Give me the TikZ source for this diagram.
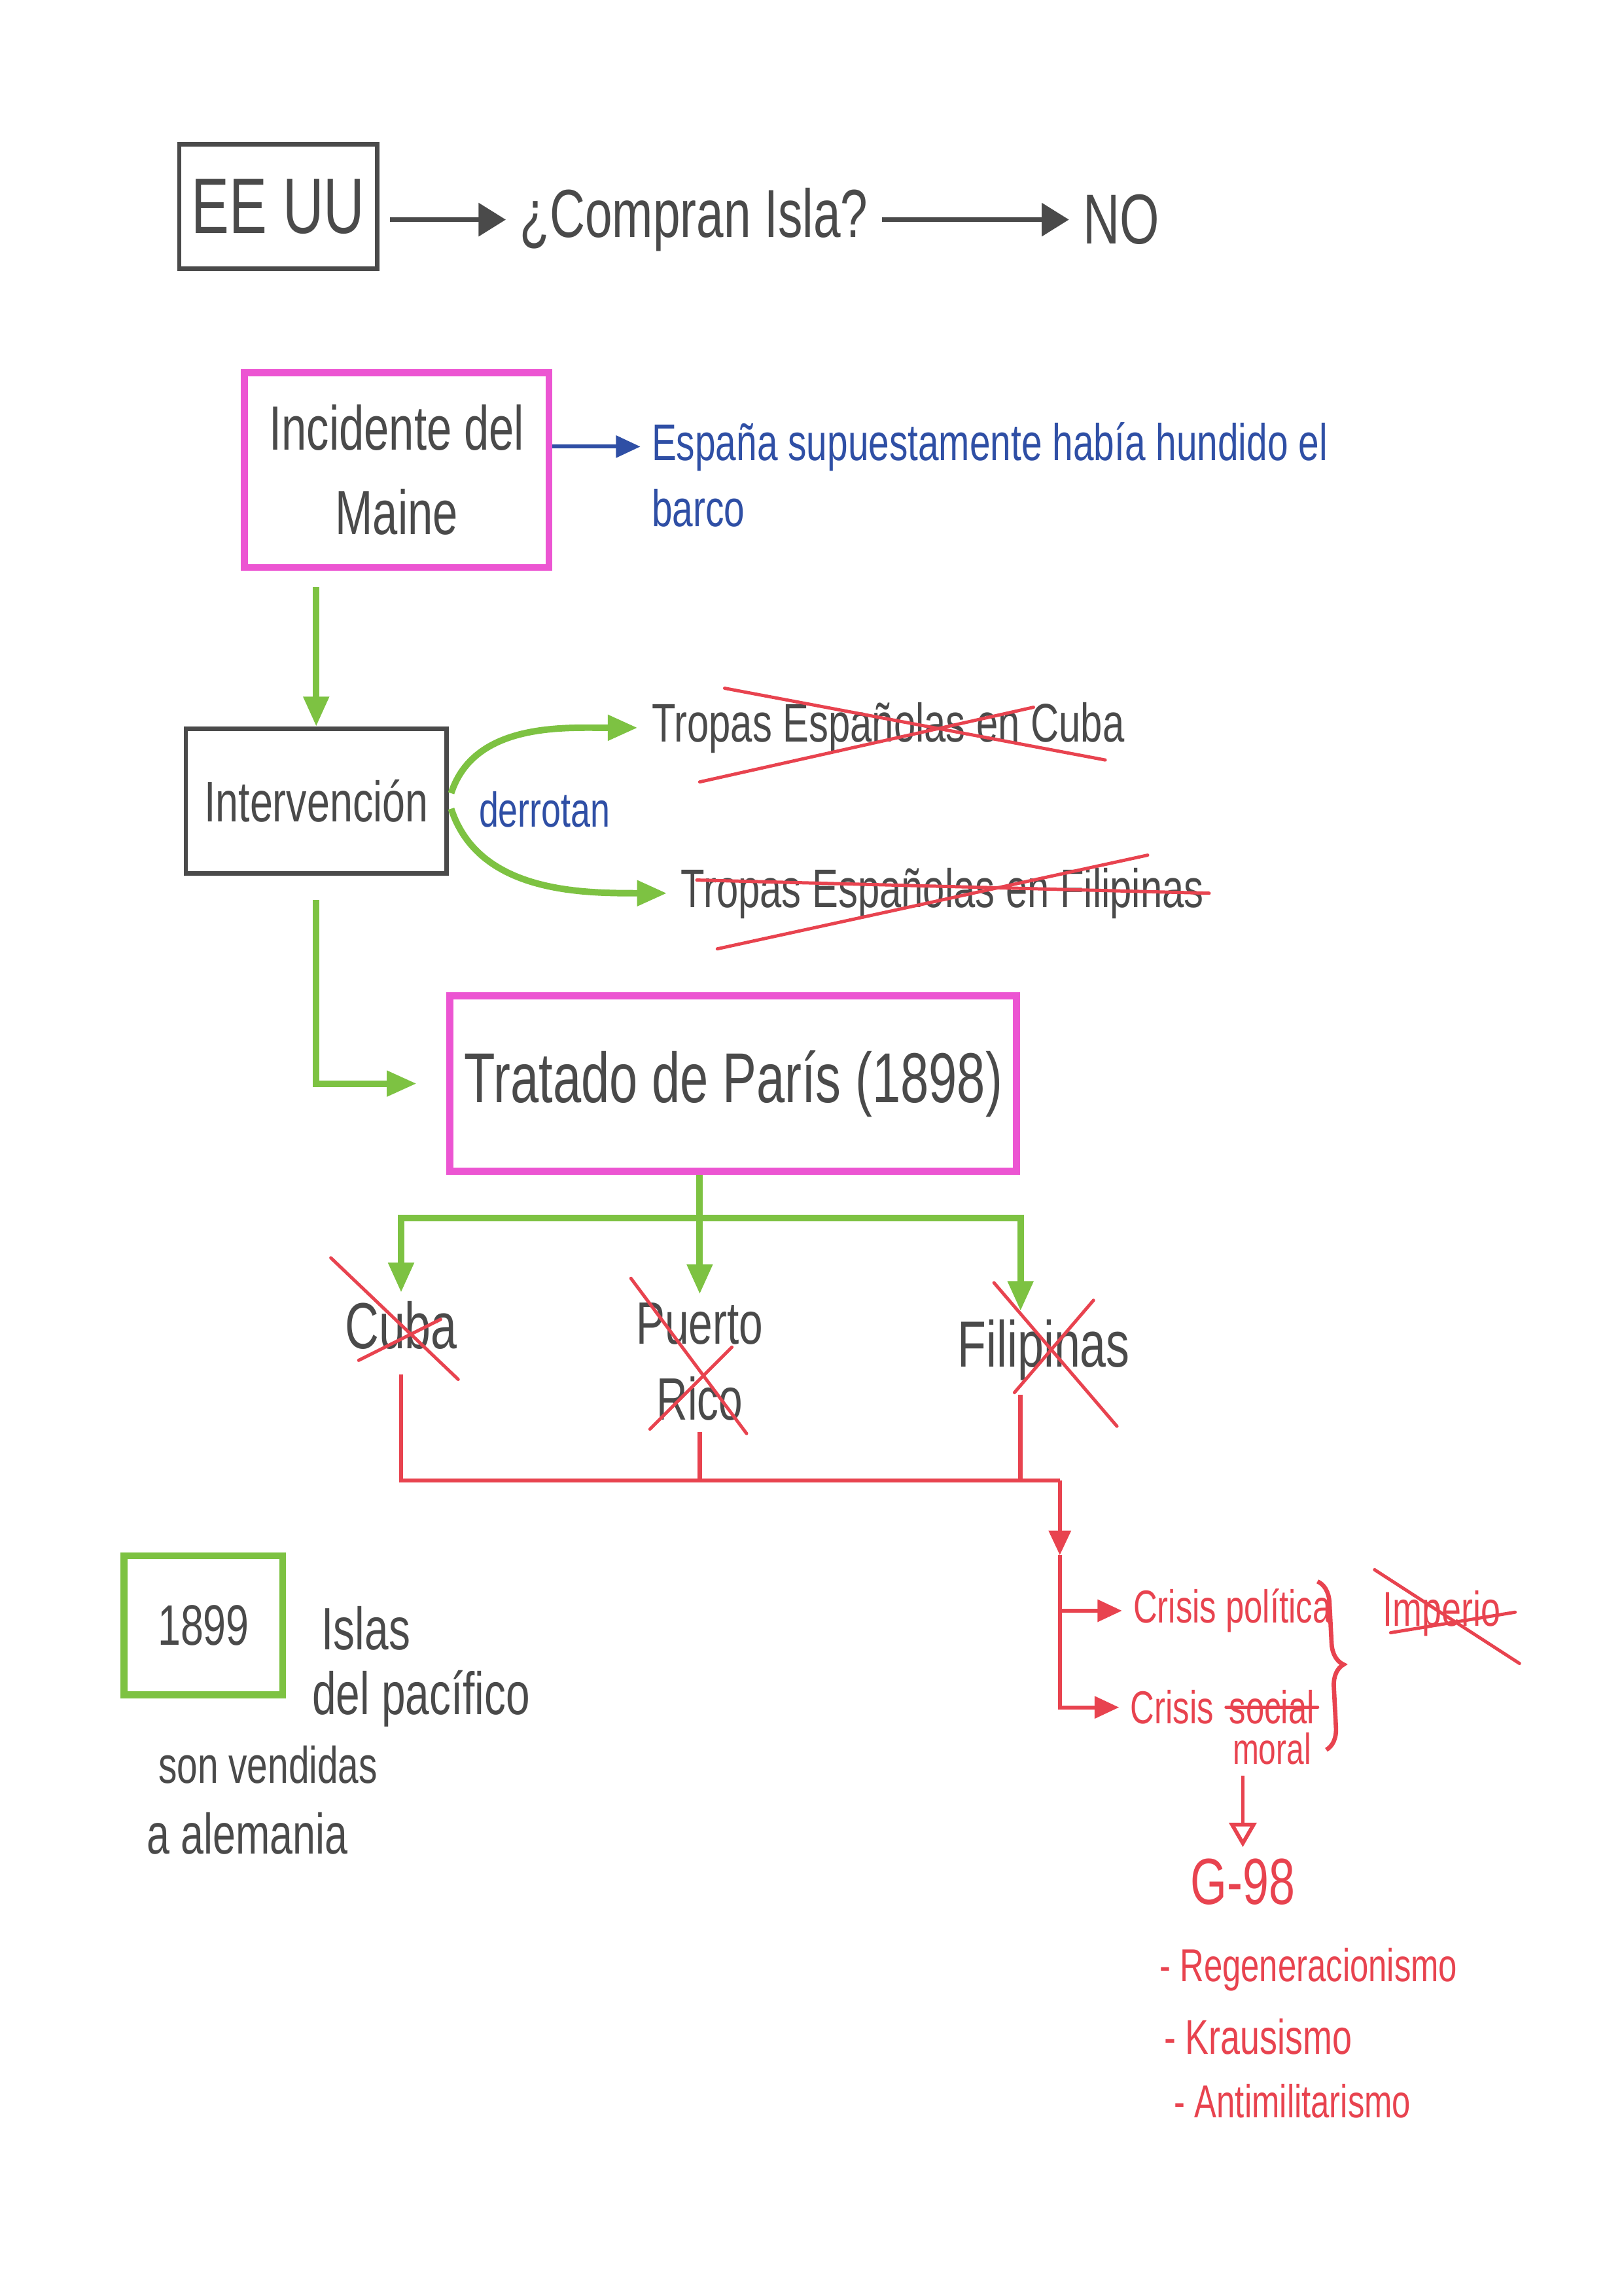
\documentclass[tikz,border=0pt]{standalone}
\usepackage{fontspec}
\setmainfont[FakeStretch=0.72]{Liberation Sans}
\usetikzlibrary{positioning,calc,arrows.meta,decorations.pathreplacing}
\definecolor{Grafito}{HTML}{4A4A4A}
\definecolor{Verde}{HTML}{7DC242}
\definecolor{Rosa}{HTML}{EC55D2}
\definecolor{Rojo}{HTML}{E8434F}
\definecolor{Azul}{HTML}{2F4FA5}
\tikzset{
  mapa caja/.style={draw=Grafito,line width=1.6pt,align=center,text=Grafito,inner sep=0pt},
  mapa rosa/.style={mapa caja,draw=Rosa,line width=2.6pt},
  mapa verde/.style={mapa caja,draw=Verde,line width=2.6pt},
  mapa texto/.style={text=Grafito,inner sep=1pt,align=left},
  mapa azul/.style={text=Azul,inner sep=1pt,align=left},
  mapa rojo/.style={text=Rojo,inner sep=1pt,align=left},
  flecha gris/.style={->,>={Triangle[length=10pt,width=12pt]},line width=1.6pt,draw=Grafito,
    shorten <=4pt,shorten >=4pt},
  flecha verde/.style={->,>={Triangle[length=11pt,width=9pt]},line width=2.4pt,draw=Verde},
  flecha azul/.style={->,>={Triangle[length=9pt,width=8pt]},line width=1.4pt,draw=Azul},
  flecha roja/.style={->,>={Triangle[length=9pt,width=8pt]},line width=1.4pt,draw=Rojo},
  linea roja/.style={line width=1.6pt,draw=Rojo},
  tachado/.style={line width=1.2pt,draw=Rojo,line cap=round}
}
\begin{document}
\begin{tikzpicture}[x=0.018936cm,y=-0.018936cm]
  \useasboundingbox (0,0) rectangle (1109,1568);
  \node[mapa caja,minimum width=2.56cm,minimum height=1.61cm,font=\fontsize{29}{29}\selectfont] (eeuu) at (190,141) {EE UU};
  \node[mapa texto,font=\fontsize{25}{25}\selectfont] (compran) at (474,150) {¿Compran Isla?};
  \node[mapa texto,right=2.7cm of compran,font=\fontsize{26}{26}\selectfont] (no) {NO};
  \node[mapa rosa,minimum width=3.94cm,minimum height=2.52cm,font=\fontsize{23}{31}\selectfont] (maine) at (271,321) {Incidente del\\Maine};
  \node[mapa azul,anchor=west,font=\fontsize{19}{19}\selectfont] (espana) at (443,305) {España supuestamente había hundido el};
  \node[mapa azul,anchor=north west,font=\fontsize{19}{19}\selectfont] (barco) at ([yshift=-0.15cm]espana.south west) {barco};
  \node[mapa caja,minimum width=3.37cm,minimum height=1.87cm,font=\fontsize{21}{21}\selectfont] (interv) at (216,547) {Intervención};
  \node[mapa texto,anchor=west,font=\fontsize{20}{20}\selectfont] (tropascuba) at (443,497) {Tropas Españolas en Cuba};
  \node[mapa texto,anchor=west,font=\fontsize{20}{20}\selectfont] (tropasfili) at (463,610) {Tropas Españolas en Filipinas};
  \node[mapa azul,font=\fontsize{18}{18}\selectfont] (derrotan) at (372,553) {derrotan};
  \node[mapa rosa,minimum width=7.33cm,minimum height=2.27cm,font=\fontsize{26}{26}\selectfont] (tratado) at (501,740) {Tratado de París (1898)};
  \node[mapa texto,font=\fontsize{24}{24}\selectfont] (cuba) at (274,905) {Cuba};
  \node[mapa texto,align=center,font=\fontsize{22}{28}\selectfont] (puerto) at (478,930) {Puerto\\Rico};
  \node[mapa texto,font=\fontsize{24}{24}\selectfont] (filipinas) at (713,922) {Filipinas};
  \node[mapa rojo,anchor=west,font=\fontsize{17}{17}\selectfont] (crisispol) at (772,1100) {Crisis política};
  \node[mapa rojo,anchor=west,font=\fontsize{17}{17}\selectfont] (crisismor) at (770,1166) {Crisis};
  \node[mapa rojo,right=0.12cm of crisismor,font=\fontsize{17}{17}\selectfont] (social) {social};
  \node[mapa rojo,below=0.02cm of social,font=\fontsize{16}{16}\selectfont] (moral) {moral};
  \node[mapa rojo,font=\fontsize{18}{18}\selectfont] (imperio) at (985,1102) {Imperio};
  \node[mapa rojo,font=\fontsize{24}{24}\selectfont] (g98) at (849,1285) {G-98};
  \node[mapa rojo,anchor=west,font=\fontsize{17}{17}\selectfont] (regen) at (790,1345) {- Regeneracionismo};
  \node[mapa rojo,anchor=west,font=\fontsize{18}{18}\selectfont] (kraus) at (793,1391) {- Krausismo};
  \node[mapa rojo,anchor=west,font=\fontsize{17}{17}\selectfont] (antimil) at (800,1435) {- Antimilitarismo};
  \node[mapa verde,minimum width=2.05cm,minimum height=1.8cm,text=Grafito,font=\fontsize{21}{21}\selectfont] (fecha) at (139,1110) {1899};
  \node[mapa texto,font=\fontsize{22}{22}\selectfont] (islas) at (250,1112) {Islas};
  \node[mapa texto,anchor=west,font=\fontsize{22}{22}\selectfont] (pacifico) at (211,1160) {del pacífico};
  \node[mapa texto,anchor=west,font=\fontsize{19}{19}\selectfont] (vendidas) at (106,1205) {son vendidas};
  \node[mapa texto,anchor=west,font=\fontsize{21}{21}\selectfont] (alemania) at (98,1252) {a alemania};
  \coordinate (reparto) at (480,832);
  \coordinate (union) at (724,1011);
  \coordinate (bifurca) at (724,1062);
  \draw[flecha gris] (eeuu.east |- compran.west) -- (compran.west);
  \draw[flecha gris] (compran.east) -- (no.west);
  \draw[flecha azul,shorten >=3pt] (maine.east |- espana.west) -- (espana.west);
  \draw[flecha verde,shorten <=6pt] (maine.south -| interv.north) -- (interv.north);
  \draw[flecha verde,shorten <=3pt,shorten >=4pt] (interv.east) to[out=72,in=180] (tropascuba.west);
  \draw[flecha verde,shorten <=3pt,shorten >=4pt] (interv.east) to[out=-72,in=180] (tropasfili.west);
  \draw[flecha verde,shorten <=9pt,shorten >=11pt] (interv.south) |- (tratado.west);
  \draw[flecha verde,shorten >=2pt] (tratado.south -| puerto.north) -- (puerto.north);
  \draw[flecha verde,shorten >=2pt] (reparto) -| (cuba.north);
  \draw[flecha verde,shorten >=2pt] (reparto) -| ([xshift=-0.3cm]filipinas.north);
  \draw[linea roja,shorten <=8pt] (cuba.south) |- (union);
  \draw[linea roja,shorten <=3pt] (puerto.south) -- (puerto.south |- union);
  \draw[linea roja,shorten <=4pt] ([xshift=-0.3cm]filipinas.south) -- ([xshift=-0.3cm]filipinas.south |- union);
  \draw[flecha roja] (union) -- (bifurca);
  \draw[flecha roja,shorten >=3pt] (bifurca) |- (crisispol.west);
  \draw[flecha roja,shorten >=3pt] (bifurca) |- (crisismor.west);
  \draw[flecha roja,>={Triangle[open,length=9pt,width=10pt]},shorten <=3pt,shorten >=3pt] (g98.north |- moral.south) -- (g98.north);
  \draw[linea roja,decorate,decoration={brace,amplitude=8pt}] (900,1080) -- (906,1195);
  \draw[tachado] (495,470) -- (755,519);
  \draw[tachado] (478,534) -- (706,483);
  \draw[tachado] (476,601) -- (826,610);
  \draw[tachado] (490,648) -- (784,584);
  \draw[tachado] (226,859) -- (313,942);
  \draw[tachado] (245,929) -- (301,901);
  \draw[tachado] (431,873) -- (510,979);
  \draw[tachado] (444,976) -- (500,920);
  \draw[tachado] (679,876) -- (763,974);
  \draw[tachado] (693,951) -- (747,888);
  \draw[tachado] (939,1072) -- (1038,1136);
  \draw[tachado] (950,1115) -- (1035,1101);
  \draw[tachado] (social.west) -- (social.east);
\end{tikzpicture}
\end{document}
